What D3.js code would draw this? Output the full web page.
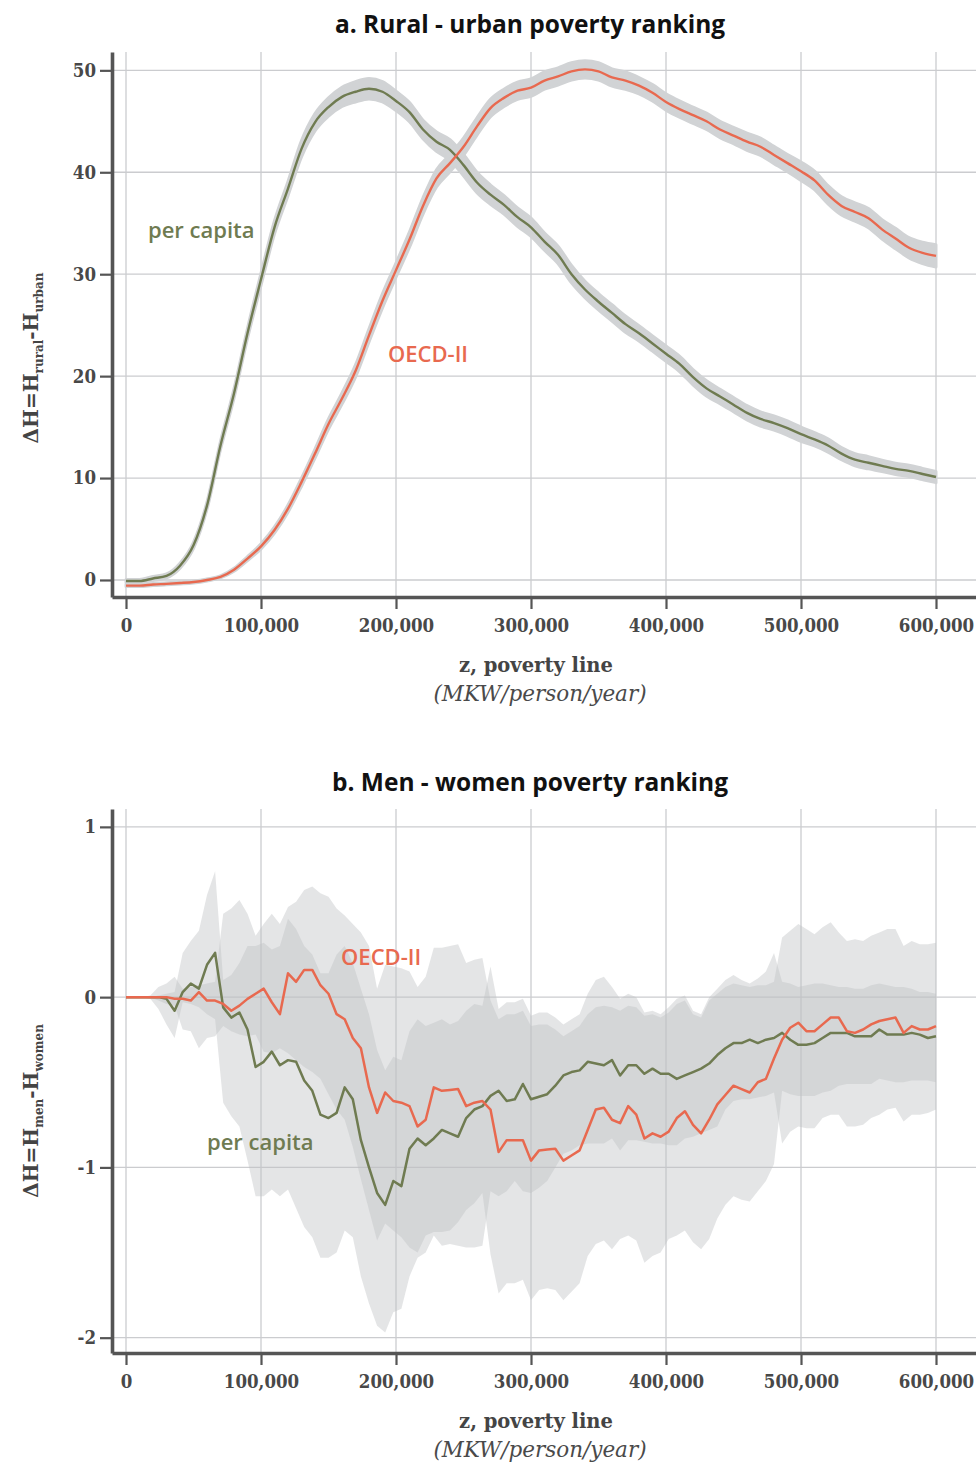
<!DOCTYPE html>
<html>
<head>
<meta charset="utf-8">
<script src="https://cdn.jsdelivr.net/npm/d3@7"></script>
<style>
  body { margin: 0; background: #fff; }
  .tick text { font-family: 'DejaVu Serif Condensed', 'DejaVu Serif', serif; font-stretch: condensed; font-weight: bold; font-size: 18.5px; fill: #484848; }
</style>
</head>
<body>
<svg id="chart" width="976" height="1466"></svg>
<script>
// ---------- Panel a: rural - urban (sampled every 10,000 MKW) ----------
const zTop = d3.range(0, 600001, 10000);
const perCapitaRU = [-0.1, -0.1, 0.15, 0.4, 1.4, 3.4, 7.3, 13.2, 18.3, 24.2,
  29.5, 34.6, 38.4, 42.3, 44.9, 46.4, 47.4, 47.9, 48.2, 47.9,
  47.0, 45.9, 44.2, 43.0, 42.2, 40.7, 39.0, 37.8, 36.8, 35.6,
  34.6, 33.2, 31.9, 30.0, 28.5, 27.3, 26.2, 25.1, 24.2, 23.2,
  22.2, 21.2, 19.9, 18.8, 18.0, 17.2, 16.4, 15.8, 15.4, 14.9,
  14.3, 13.8, 13.2, 12.4, 11.8, 11.5, 11.2, 10.9, 10.7, 10.4, 10.1];
const oecdRU = [-0.55, -0.55, -0.45, -0.38, -0.3, -0.2, 0.0, 0.3, 1.0, 2.1,
  3.3, 4.9, 7.0, 9.6, 12.4, 15.3, 17.8, 20.5, 24.0, 27.4,
  30.4, 33.4, 36.7, 39.4, 40.9, 42.5, 44.5, 46.3, 47.3, 48.0,
  48.3, 49.0, 49.4, 49.9, 50.1, 49.9, 49.3, 49.0, 48.5, 47.8,
  46.9, 46.2, 45.6, 45.0, 44.2, 43.6, 43.0, 42.5, 41.7, 40.9,
  40.1, 39.2, 37.8, 36.7, 36.1, 35.5, 34.4, 33.5, 32.6, 32.1, 31.8];
// half-width of the 95% confidence band
const perCapitaRUci = [0.15, 0.15, 0.2, 0.2, 0.25, 0.3, 0.35, 0.4, 0.45, 0.5,
  0.6, 0.65, 0.7, 0.8, 0.85, 0.9, 0.95, 1.0, 1.0, 1.0,
  0.95, 0.95, 0.9, 0.95, 1.0, 1.05, 1.0, 0.95, 0.9, 0.9,
  0.9, 0.85, 0.85, 0.85, 0.8, 0.8, 0.8, 0.8, 0.75, 0.75,
  0.75, 0.75, 0.75, 0.75, 0.7, 0.7, 0.7, 0.7, 0.7, 0.7,
  0.7, 0.65, 0.65, 0.6, 0.6, 0.6, 0.55, 0.55, 0.55, 0.55, 0.55];
const oecdRUci = [0.1, 0.1, 0.1, 0.1, 0.1, 0.1, 0.1, 0.1, 0.15, 0.2,
  0.25, 0.3, 0.35, 0.4, 0.45, 0.5, 0.55, 0.6, 0.65, 0.7,
  0.7, 0.75, 0.8, 0.85, 0.85, 0.85, 0.85, 0.85, 0.85, 0.85,
  0.85, 0.85, 0.85, 0.85, 0.85, 0.85, 0.85, 0.85, 0.8, 0.8,
  0.8, 0.8, 0.8, 0.8, 0.8, 0.8, 0.85, 0.85, 0.85, 0.85,
  0.9, 0.9, 0.9, 0.9, 0.9, 0.95, 0.95, 1.0, 1.0, 1.05, 1.1];

// ---------- Panel b: men - women (sampled every 6,000 MKW) ----------
const zBottom = d3.range(0, 600001, 6000);
const perCapitaMW = [0, 0, 0, 0, 0, -0.01, -0.08, 0.03, 0.08, 0.05,
  0.19, 0.26, -0.06, -0.12, -0.09, -0.19, -0.41, -0.38, -0.32, -0.40,
  -0.37, -0.38, -0.49, -0.55, -0.69, -0.71, -0.68, -0.53, -0.60, -0.84,
  -1.00, -1.15, -1.22, -1.08, -1.11, -0.89, -0.83, -0.87, -0.83, -0.78,
  -0.80, -0.82, -0.71, -0.66, -0.64, -0.58, -0.55, -0.61, -0.60, -0.51,
  -0.60, -0.585, -0.57, -0.52, -0.46, -0.44, -0.43, -0.38, -0.39, -0.40,
  -0.37, -0.46, -0.40, -0.40, -0.45, -0.42, -0.45, -0.45, -0.48, -0.46,
  -0.44, -0.42, -0.39, -0.34, -0.30, -0.27, -0.27, -0.25, -0.27, -0.25,
  -0.24, -0.21, -0.25, -0.28, -0.28, -0.27, -0.24, -0.21, -0.21, -0.21,
  -0.23, -0.23, -0.23, -0.19, -0.22, -0.22, -0.22, -0.21, -0.22, -0.24,
  -0.23];
const oecdMW = [0, 0, 0, 0, 0, 0, -0.01, -0.01, -0.02, 0.03,
  -0.02, -0.02, -0.04, -0.08, -0.05, -0.01, 0.02, 0.05, -0.03, -0.10,
  0.14, 0.09, 0.16, 0.16, 0.07, 0.02, -0.10, -0.13, -0.24, -0.30,
  -0.53, -0.68, -0.56, -0.61, -0.62, -0.64, -0.76, -0.72, -0.53, -0.55,
  -0.545, -0.54, -0.64, -0.62, -0.61, -0.66, -0.91, -0.84, -0.84, -0.84,
  -0.96, -0.90, -0.895, -0.89, -0.96, -0.93, -0.90, -0.78, -0.66, -0.65,
  -0.72, -0.74, -0.64, -0.69, -0.83, -0.80, -0.82, -0.79, -0.71, -0.67,
  -0.75, -0.80, -0.72, -0.63, -0.575, -0.52, -0.54, -0.56, -0.50, -0.48,
  -0.36, -0.25, -0.18, -0.15, -0.20, -0.20, -0.16, -0.12, -0.12, -0.20,
  -0.21, -0.19, -0.16, -0.14, -0.13, -0.12, -0.21, -0.17, -0.19, -0.19,
  -0.17];
// 95% confidence bounds
const perCapitaMWlow = [0, 0, 0, -0.01, -0.07, -0.16, -0.24,
  -0.03, -0.04, -0.06, -0.10, -0.13,
  -0.62, -0.70, -0.76, -0.96, -1.17, -1.17, -1.13, -1.17, -1.13, -1.24,
  -1.35, -1.41, -1.53, -1.53, -1.50, -1.37, -1.41, -1.64, -1.80, -1.93,
  -1.97, -1.85, -1.83, -1.64, -1.53, -1.50, -1.40, -1.46, -1.45, -1.46,
  -1.47, -1.47, -1.46,
  -1.14, -1.17, -1.14, -1.08, -1.14, -1.15, -1.12, -1.08, -1.00, -0.92,
  -0.90, -0.87, -0.86, -0.86, -0.86, -0.83, -0.90, -0.84, -0.84, -0.85,
  -0.86, -0.86, -0.87, -0.87, -0.83, -0.82, -0.80, -0.78, -0.76, -0.66,
  -0.61, -0.60, -0.60, -0.59, -0.58, -0.56,
  -0.86, -0.79, -0.76, -0.77, -0.77, -0.71, -0.69, -0.69, -0.76, -0.76,
  -0.75, -0.71, -0.69, -0.66, -0.65, -0.73, -0.69, -0.69, -0.68, -0.66];
const perCapitaMWhigh = [0, 0, 0, 0, 0.01, 0.02, 0.03,
  0.26, 0.33, 0.39, 0.60, 0.74,
  0.10, 0.13, 0.20, 0.30, 0.30, 0.32, 0.28, 0.30, 0.46, 0.40,
  0.30, 0.25, 0.14, 0.14, 0.25, 0.30, 0.20, 0.05, -0.10, -0.31,
  -0.43, -0.35, -0.37, -0.20, -0.13, -0.17, -0.15, -0.13, -0.16, -0.14,
  -0.08, -0.04, -0.05,
  0.18, -0.07, -0.03, -0.03, -0.01, -0.11, -0.09, -0.09, -0.12, -0.16,
  -0.13, -0.10, 0.02, 0.10, 0.12, 0.06, -0.01, 0.02, 0.00, -0.09,
  -0.08, -0.10, -0.06, -0.01, 0.01, -0.08, -0.10, 0.00, 0.05, 0.10,
  0.13, 0.10, 0.08, 0.11, 0.15, 0.26,
  0.09, 0.08, 0.06, 0.07, 0.08, 0.08, 0.07, 0.06, 0.06, 0.05,
  0.05, 0.07, 0.08, 0.07, 0.06, 0.06, 0.05, 0.03, 0.03, 0.02];
const oecdMWlow = [0, 0, 0, 0, -0.02, -0.04, -0.05,
  -0.19, -0.20, -0.30, -0.24, -0.23,
  -0.17, -0.20, -0.22, -0.23, -0.22, -0.32, -0.33, -0.30, -0.33, -0.37,
  -0.41, -0.44, -0.48, -0.57, -0.66, -0.72, -0.88, -1.07, -1.25, -1.43,
  -1.33, -1.37, -1.41, -1.47, -1.50, -1.40, -1.38, -1.38, -1.37, -1.32,
  -1.25, -1.21, -1.15,
  -1.51, -1.74, -1.68, -1.68, -1.66, -1.78, -1.72, -1.71, -1.72, -1.78,
  -1.73, -1.68, -1.52, -1.45, -1.43, -1.48, -1.42, -1.40, -1.43, -1.56,
  -1.52, -1.50, -1.42, -1.40, -1.37, -1.44, -1.48, -1.42, -1.30, -1.22,
  -1.17, -1.19, -1.20, -1.14, -1.08, -0.98,
  -0.55, -0.57, -0.58, -0.58, -0.58, -0.56, -0.55, -0.52, -0.51, -0.51,
  -0.51, -0.51, -0.48, -0.49, -0.50, -0.50, -0.49, -0.49, -0.49, -0.50];
const oecdMWhigh = [0, 0, 0, 0.01, 0.06, 0.08, 0.12,
  0.05, 0.06, 0.07, 0.08, 0.09,
  0.49, 0.52, 0.57, 0.49, 0.36, 0.43, 0.49, 0.43, 0.53, 0.56,
  0.63, 0.65, 0.61, 0.59, 0.52, 0.48, 0.43, 0.38, 0.30, 0.05,
  0.19, 0.18, 0.17, 0.15, 0.06, 0.12, 0.29, 0.29, 0.30, 0.31,
  0.20, 0.22, 0.23,
  -0.02, -0.13, -0.10, -0.10, -0.08, -0.17, -0.16, -0.16, -0.19, -0.23,
  -0.20, -0.17, -0.10, -0.06, -0.05, -0.06, -0.08, -0.05, -0.06, -0.11,
  -0.10, -0.12, -0.09, -0.04, -0.02, -0.10, -0.12, -0.02, 0.02, 0.06,
  0.08, 0.07, 0.06, 0.07, 0.07, 0.09,
  0.35, 0.39, 0.43, 0.40, 0.37, 0.41, 0.44, 0.38, 0.33, 0.34,
  0.33, 0.36, 0.38, 0.40, 0.40, 0.30, 0.33, 0.31, 0.31, 0.32];

// ---------- ticks & labels ----------
const xTicks = [0, 100000, 200000, 300000, 400000, 500000, 600000];
const yTicksRU = [0, 10, 20, 30, 40, 50];
const yTicksMW = [-2, -1, 0, 1];
const seriesNames = ["per capita", "OECD-II"];

const GREEN = "#6f7b51";
const RED = "#e8694f";
const GRID = "#cbcccf";
const AXIS = "#555555";
const SERIF = "'DejaVu Serif', serif";

const svg = d3.select("#chart");
const x = d3.scaleLinear().domain([-10370, 629630]).range([112, 976]);
// integer labels with a plain hyphen for negatives
const intLabel = d => String(Math.round(d));

function panel(cfg) {
  const g = svg.append("g");
  const y = cfg.y;
  const [yBottom, yTop] = y.range();

  // grid
  g.append("g").selectAll("line").data(xTicks).join("line")
    .attr("x1", d => x(d)).attr("x2", d => x(d))
    .attr("y1", yTop).attr("y2", yBottom)
    .attr("stroke", GRID).attr("stroke-width", 1.3);
  g.append("g").selectAll("line").data(cfg.yTicks).join("line")
    .attr("x1", 112).attr("x2", 976)
    .attr("y1", d => y(d)).attr("y2", d => y(d))
    .attr("stroke", GRID).attr("stroke-width", 1.3);

  cfg.draw(g, y);

  // axes
  const ax = g.append("g").attr("transform", `translate(0,${yBottom})`)
    .call(d3.axisBottom(x).tickValues(xTicks).tickFormat(d3.format(",")).tickSize(12).tickSizeOuter(0).tickPadding(10));
  const ay = g.append("g").attr("transform", "translate(112,0)")
    .call(d3.axisLeft(y).tickValues(cfg.yTicks).tickFormat(intLabel).tickSize(12).tickSizeOuter(0).tickPadding(4));
  [ax, ay].forEach(a => {
    a.select(".domain").attr("stroke", AXIS).attr("stroke-width", 3.6);
    a.selectAll(".tick line").attr("stroke", AXIS).attr("stroke-width", 2.2);
  });

  // title
  g.append("text").attr("x", 530).attr("y", cfg.titleY)
    .attr("text-anchor", "middle")
    .style("font-family", "'Open Sans', sans-serif").style("font-weight", 700).style("font-size", "24.5px")
    .attr("fill", "#111").text(cfg.title);

  // x-axis title
  g.append("text").attr("x", 536).attr("y", yBottom + 75)
    .attr("text-anchor", "middle")
    .style("font-family", SERIF)
    .style("font-weight", 700).style("font-size", "19.5px").attr("fill", "#444")
    .text("z, poverty line");
  g.append("text").attr("x", 540).attr("y", yBottom + 104)
    .attr("text-anchor", "middle")
    .style("font-family", SERIF)
    .style("font-style", "italic").style("font-size", "21.5px").attr("fill", "#4a4a4a")
    .text("(MKW/person/year)");

  // y-axis title with subscripts
  const yt = g.append("text")
    .attr("transform", `translate(38,${cfg.yTitleCenter}) rotate(-90)`)
    .attr("text-anchor", "middle")
    .style("font-family", SERIF).style("font-weight", 700).style("font-size", "20px")
    .attr("fill", "#444");
  yt.append("tspan").text("\u0394H=H");
  yt.append("tspan").attr("dy", 5).style("font-size", "12px").text(cfg.sub1);
  yt.append("tspan").attr("dy", -5).text("-H");
  yt.append("tspan").attr("dy", 5).style("font-size", "12px").text(cfg.sub2);

  // series labels
  cfg.labels.forEach(l => {
    g.append("text").attr("x", x(l.z)).attr("y", y(l.v))
      .style("font-family", "'Open Sans', sans-serif").style("font-weight", 600).style("font-size", "22px")
      .attr("fill", l.color).text(l.text);
  });
}

// Panel a
panel({
  title: "a. Rural - urban poverty ranking",
  titleY: 33,
  y: d3.scaleLinear().domain([-1.67, 51.8]).range([597, 52]),
  yTicks: yTicksRU,
  yTitleCenter: 358,
  sub1: "rural", sub2: "urban",
  labels: [
    { text: seriesNames[0], z: 16300, v: 33.6, color: GREEN },
    { text: seriesNames[1], z: 194000, v: 21.4, color: RED }
  ],
  draw(g, y) {
    const series = [
      { v: perCapitaRU, ci: perCapitaRUci, color: GREEN },
      { v: oecdRU, ci: oecdRUci, color: RED }
    ];
    const band = d3.area()
      .x((d, i) => x(zTop[i]))
      .y0(d => y(d[0] - d[1])).y1(d => y(d[0] + d[1]))
      .curve(d3.curveMonotoneX);
    series.forEach(s => {
      g.append("path").datum(s.v.map((v, i) => [v, s.ci[i]]))
        .attr("d", band).attr("fill", "#d1d3d5")
        .attr("stroke", "#d1d3d5").attr("stroke-width", 3).attr("stroke-linejoin", "round");
    });
    const line = d3.line().x((d, i) => x(zTop[i])).y(d => y(d)).curve(d3.curveMonotoneX);
    series.forEach(s => {
      g.append("path").datum(s.v).attr("d", line)
        .attr("fill", "none").attr("stroke", s.color).attr("stroke-width", 2.4);
    });
  }
});

// Panel b
panel({
  title: "b. Men - women poverty ranking",
  titleY: 791,
  y: d3.scaleLinear().domain([-2.09, 1.105]).range([1353, 809]),
  yTicks: yTicksMW,
  yTitleCenter: 1111,
  sub1: "men", sub2: "women",
  labels: [
    { text: seriesNames[0], z: 60000, v: -0.9, color: GREEN },
    { text: seriesNames[1], z: 159300, v: 0.19, color: RED }
  ],
  draw(g, y) {
    const bands = [
      { lo: perCapitaMWlow, hi: perCapitaMWhigh },
      { lo: oecdMWlow, hi: oecdMWhigh }
    ];
    const area = d3.area()
      .x((d, i) => x(zBottom[i]))
      .y0(d => y(d[0])).y1(d => y(d[1]));
    bands.forEach(b => {
      g.append("path").datum(b.lo.map((l, i) => [l, b.hi[i]]))
        .attr("d", area).attr("fill", "rgb(190,192,196)").attr("fill-opacity", 0.42);
    });
    const line = d3.line().x((d, i) => x(zBottom[i])).y(d => y(d));
    [{ v: perCapitaMW, color: GREEN }, { v: oecdMW, color: RED }].forEach(s => {
      g.append("path").datum(s.v).attr("d", line)
        .attr("fill", "none").attr("stroke", s.color).attr("stroke-width", 2.5)
        .attr("stroke-linejoin", "round");
    });
  }
});
</script>
</body>
</html>
